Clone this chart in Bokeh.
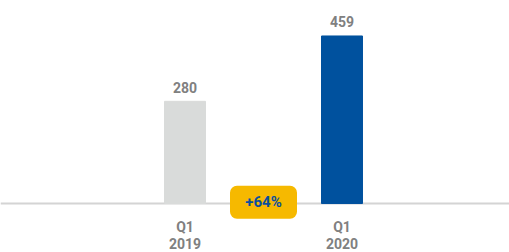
from bokeh.plotting import figure
from bokeh.models import Range1d, Span, ColumnDataSource
from bokeh.core.properties import value
from bokeh.embed import file_html
from bokeh.resources import INLINE

# data
categories = ["Q1\n2019", "Q1\n2020"]
positions = [1, 2]
values = [280, 459]
value_labels = ["280", "459"]
bar_colors = ["#d9dbda", "#00519e"]
change_label = ["+64%"]
change_pos = [1.5]

FONT = "Roboto"

p = figure(width=509, height=252, output_backend="svg", toolbar_location=None,
           x_range=Range1d(-0.1752, 3.0669), y_range=Range1d(-134.2, 556.2),
           min_border=0, outline_line_color=None)
p.axis.visible = False
p.grid.visible = False
p.background_fill_color = "white"
p.border_fill_color = "white"

src = ColumnDataSource(dict(x=positions, top=values, color=bar_colors,
                            lbl=value_labels, cat=categories))

p.add_layout(Span(location=0, dimension="width", line_color="#d4d4d4", line_width=2,
                  level="underlay"))

p.vbar(x="x", top="top", bottom=0, width=0.261, color="color", source=src)

p.text(x="x", y="top", text="lbl", source=src, text_align="center",
       text_baseline="alphabetic", y_offset=-14, text_font=value(FONT),
       text_font_size="14px", text_font_style="bold", text_color="#808080")

p.text(x="x", y=0, text="cat", source=src, text_align="center",
       text_baseline="top", y_offset=15, text_font=value(FONT),
       text_font_size="14px", text_font_style="bold", text_color="#808080",
       text_line_height=1.12)

bsrc = ColumnDataSource(dict(x=change_pos, y=[3.6], t=change_label))
p.rect(x="x", y="y", width=67, height=33, width_units="screen", height_units="screen",
       fill_color="#f6b900", line_color=None, border_radius=7, source=bsrc)
p.text(x="x", y="y", text="t", source=bsrc, text_align="center", text_baseline="middle",
       text_font=value(FONT), text_font_size="15px", text_font_style="bold",
       text_color="#0b4f9c")

open("out.html", "w").write(file_html(p, INLINE))
